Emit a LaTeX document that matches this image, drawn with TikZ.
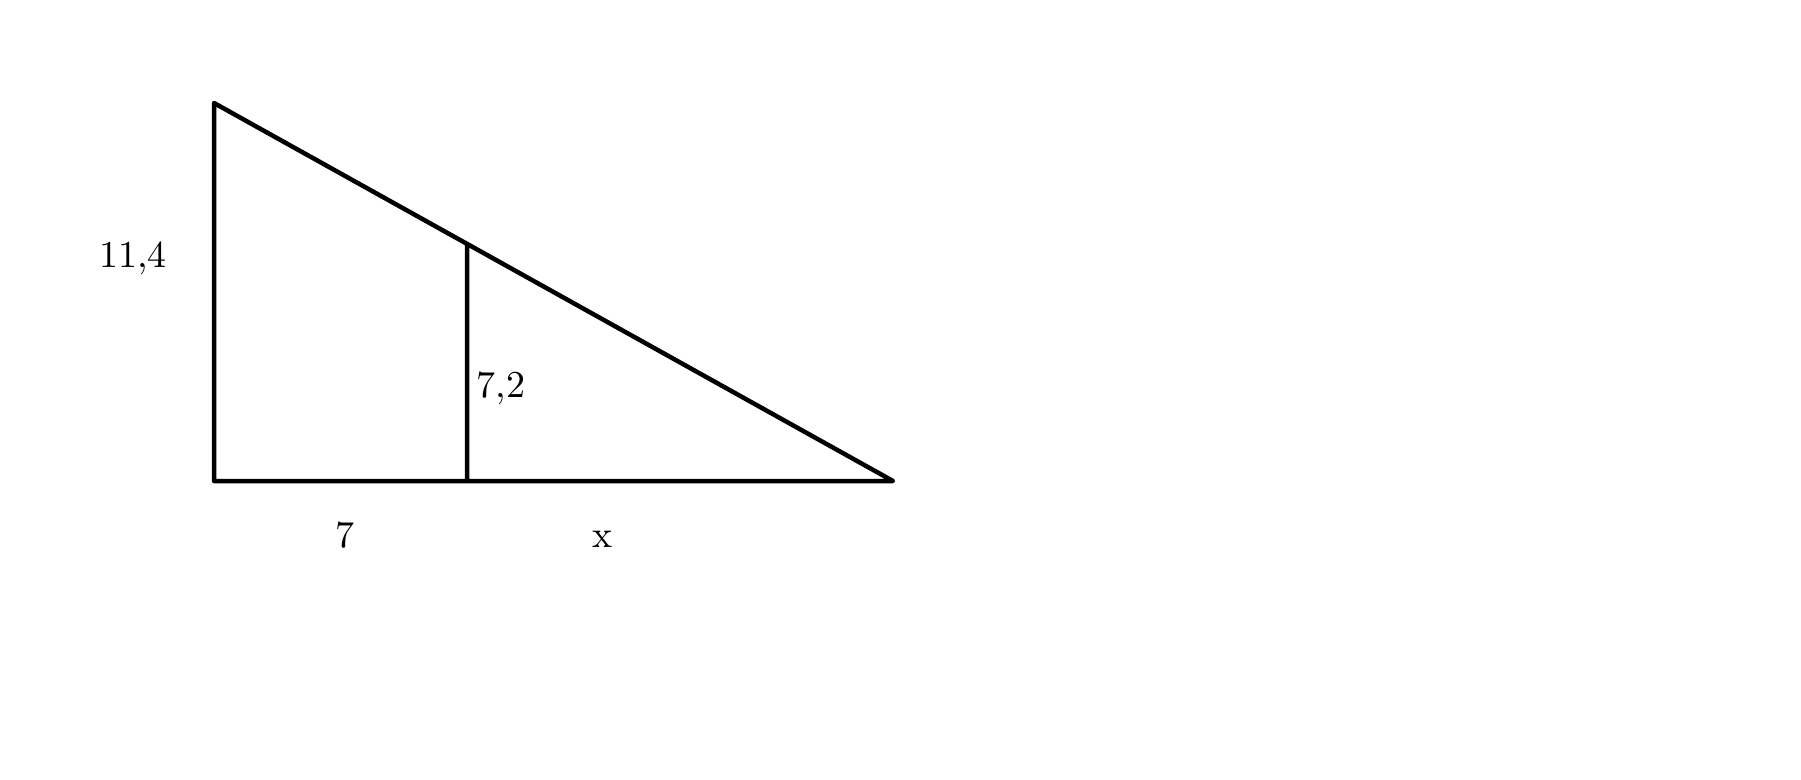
\documentclass[tikz,border=0pt]{standalone}
\usepackage{fontspec}
\setmainfont{Latin Modern Roman}
\usetikzlibrary{calc}
\begin{document}
\begin{tikzpicture}[x=1pt,y=-1pt,
  edge/.style={line width=4.5pt,line join=round},
  lbl/.style={inner sep=0pt,anchor=base,scale=3.8,font=\fontsize{10}{12}\selectfont}]
\useasboundingbox[fill=white] (0,0) rectangle (1801,779);
\coordinate (A) at (214,103);
\coordinate (B) at (214,481);
\coordinate (C) at (893,481);
\coordinate (D) at (467,481);
\coordinate (E) at ($(A)!0.3726!(C)$);
\draw[edge] (A) -- (B) -- (C) -- cycle;
\draw[edge] (D) -- (E);
\node[lbl] (l1) at (133,267) {11,4};
\node[lbl] (l2) at (501,397) {7,2};
\node[lbl] (l3) at (345,547) {7};
\node[lbl] (l4) at (603,547) {x};
\end{tikzpicture}
\end{document}
